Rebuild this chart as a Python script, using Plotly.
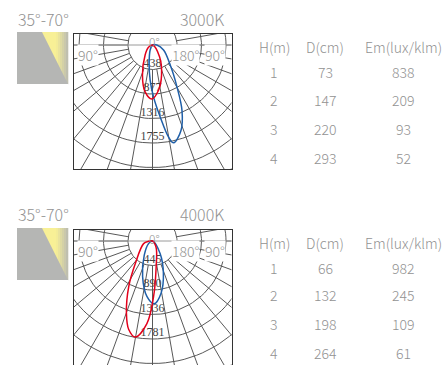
import math
import plotly.graph_objects as go

# ---- data ----
CCT_LABELS = ["3000K", "4000K"]
BEAM_LABEL = "35°-70°"
RING_TICKS_A = [438, 877, 1316, 1755]
RING_TICKS_B = [445, 890, 1336, 1781]

# lobes, candela offsets from the luminaire centre (x right, y down)
BLUE_A_X = [0, 78, 198, 318, 438, 528, 510, 378, 288, 138, 18, -42, -60, -42, 0]
BLUE_A_Y = [0, 0, 90, 360, 750, 1170, 1530, 1752, 1650, 1290, 930, 630, 330, 90, 0]
RED_A_X = [0, 126, 162, 108, -12, -132, -180, -132, -72, 0]
RED_A_Y = [0, 210, 540, 810, 966, 840, 540, 180, 42, 0]
RED_B_X = [0, 66, 66, 18, -102, -312, -432, -474, -432, -312, -162, -72, 0]
RED_B_Y = [0, 120, 480, 1020, 1500, 1746, 1608, 1308, 828, 408, 48, 6, 0]
BLUE_B_X = [0, 138, 198, 156, 30, -102, -180, -150, -72, 0]
BLUE_B_Y = [0, 228, 588, 948, 1140, 1008, 648, 258, 48, 0]

TABLE_HEAD = ["H(m)", "D(cm)", "Em(lux/klm)"]
H_M = [1, 2, 3, 4]
D_A = [73, 147, 220, 293]
EM_A = [838, 209, 93, 52]
D_B = [66, 132, 198, 264]
EM_B = [982, 245, 109, 61]

W, H = 442, 365
TXT = "#929292"
FONT = "Noto Sans CJK SC"
BLUE, RED = "#1f5fa8", "#e3001b"
GRID = "#585858"

fig = go.Figure()


def px(x):
    return x / W


def py(y):
    return 1 - y / H


def add_diagram(idx, top, cy, bottom, ticks, blue, red):
    ax = "" if idx == 1 else str(idx)
    unit = ticks[-1] / 98.0  # candela per pixel
    xa, ya = "x" + ax, "y" + ax
    left, right, cx = 73.5, 231.5, 152.5
    fig.update_layout({
        f"xaxis{ax}": dict(domain=[px(left), px(right)], range=[(left - cx) * unit, (right - cx) * unit],
                           visible=True, showgrid=False, zeroline=False, showticklabels=False, ticks="",
                           showline=True, linecolor="#333333", linewidth=1, mirror=True, anchor=ya),
        f"yaxis{ax}": dict(domain=[py(bottom), py(top)], range=[(bottom - cy) * unit, (top - cy) * unit],
                           visible=True, showgrid=False, zeroline=False, showticklabels=False, ticks="",
                           showline=True, linecolor="#333333", linewidth=1, mirror=True, anchor=xa),
    })
    # rings
    step = ticks[-1] / 4
    for k in range(1, 7):
        r = step * k
        a = [math.radians(d) for d in range(0, 361, 3)]
        fig.add_trace(go.Scatter(x=[r * math.cos(t) for t in a], y=[r * math.sin(t) for t in a], mode="lines",
                                 xaxis=xa, yaxis=ya, line=dict(color=GRID, width=1), hoverinfo="skip"))
    # spokes every 10 degrees, from the first ring, down to 10 degrees above the horizontal
    xs, ys = [], []
    for d in list(range(-100, 101, 10)):
        t = math.radians(d)
        xs += [step * math.sin(t), 4 * ticks[-1] * math.sin(t), None]
        ys += [step * math.cos(t), 4 * ticks[-1] * math.cos(t), None]
    fig.add_trace(go.Scatter(x=xs, y=ys, mode="lines", xaxis=xa, yaxis=ya,
                             line=dict(color=GRID, width=1), hoverinfo="skip"))
    # horizontal axis through the centre
    fig.add_trace(go.Scatter(x=[-3 * ticks[-1], 3 * ticks[-1]], y=[0, 0], mode="lines", xaxis=xa, yaxis=ya,
                             line=dict(color="#9a9a9a", width=1), hoverinfo="skip"))
    # ring labels
    fig.add_trace(go.Scatter(x=[0] * 4, y=[step * (k + 0.77) for k in range(4)],
                             text=[str(t) for t in ticks], mode="text", xaxis=xa, yaxis=ya,
                             textfont=dict(family="Liberation Serif", size=12, color="#444444"), hoverinfo="skip"))
    fig.add_trace(go.Scatter(x=blue[0], y=blue[1], mode="lines", xaxis=xa, yaxis=ya,
                             line=dict(color=BLUE, width=1.5, shape="spline", smoothing=1), hoverinfo="skip"))
    fig.add_trace(go.Scatter(x=red[0], y=red[1], mode="lines", xaxis=xa, yaxis=ya,
                             line=dict(color=RED, width=1.5, shape="spline", smoothing=1), hoverinfo="skip"))


add_diagram(1, 33.5, 45, 169, RING_TICKS_A, (BLUE_A_X, BLUE_A_Y), (RED_A_X, RED_A_Y))
add_diagram(2, 230, 241, 365, RING_TICKS_B, (BLUE_B_X, BLUE_B_Y), (RED_B_X, RED_B_Y))

annots = []


def note(x, y, text, size=14, color=TXT, xanchor="center", bg=None):
    annots.append(dict(x=px(x), y=py(y), xref="paper", yref="paper", text=text, showarrow=False,
                       xanchor=xanchor, yanchor="middle", bgcolor=bg, borderpad=0,
                       font=dict(family=FONT, size=size, color=color, weight=300)))


shapes = []


def swatch(top):
    l, r, b = 17, 68, top + 52
    shapes.append(dict(type="rect", xref="paper", yref="paper", x0=px(l), x1=px(r), y0=py(top), y1=py(b),
                       fillcolor="#b5b6b4", line_width=0, layer="below"))
    tl = 42.0
    n = 13
    for i in range(n):
        xa = tl + (r - tl) * i / n
        xb = tl + (r - tl) * (i + 1) / n + 0.3
        ya = top + 52 * (xa - tl) / (r - tl)
        yb = top + 52 * (xb - tl) / (r - tl)
        f = max(0.0, (xa - 55) / 13)
        col = "#%02x%02x%02x" % (round(248 + (181 - 248) * f), round(240 + (182 - 240) * f), round(150 + (180 - 150) * f))
        path = f"M {px(xa)} {py(top)} L {px(xb)} {py(top)} L {px(xb)} {py(yb)} L {px(xa)} {py(ya)} Z"
        shapes.append(dict(type="path", xref="paper", yref="paper", path=path, fillcolor=col, line_width=0, layer="below"))


swatch(32)
swatch(228)


def block(y_title, y_head, rows_y, cct, d, em, cy):
    note(17, y_title, BEAM_LABEL, size=16, xanchor="left")
    note(225, y_title, cct, size=16, xanchor="right")
    for lab, x in zip(TABLE_HEAD, [274, 325, 403]):
        note(x, y_head, lab, size=14)
    for i in range(4):
        note(274, rows_y[i], str(H_M[i]))
        note(325, rows_y[i], str(d[i]))
        note(403, rows_y[i], str(em[i]))
    for x, lab, anch in [(77, "90°", "left"), (171, "180°", "left"), (204, "90°", "left")]:
        note(x, cy + 9.5, lab, size=14, xanchor=anch, bg="white")
    note(154, cy - 3, "0°", size=12)


block(19, 47, [72, 100, 129, 158], CCT_LABELS[0], D_A, EM_A, 45)
block(214, 243, [268, 295, 324, 353], CCT_LABELS[1], D_B, EM_B, 241)

fig.update_layout(width=W, height=H, margin=dict(l=0, r=0, t=0, b=0), paper_bgcolor="white", plot_bgcolor="white",
                  showlegend=False, annotations=annots, shapes=shapes)
fig.write_html("out.html", config={"displayModeBar": False},
               post_script="document.body.style.margin='0';document.body.style.overflow='hidden';")
